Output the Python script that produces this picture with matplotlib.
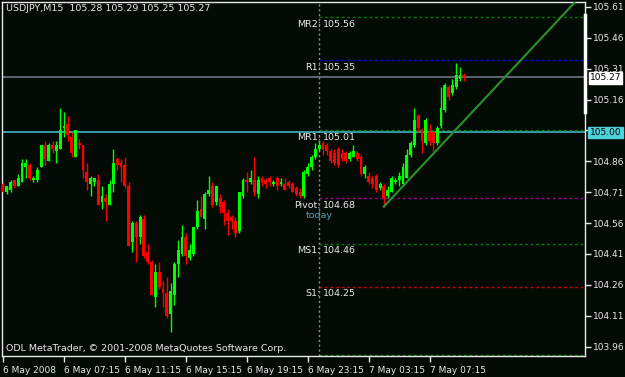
import numpy as np
import matplotlib.pyplot as plt
import matplotlib.transforms as mtransforms

# USDJPY M15 candles, 6 May 03:15 .. 7 May 09:30
opens = [104.75, 104.71, 104.72, 104.77, 104.74, 104.76, 104.83, 104.84, 104.77, 104.77,
         104.83, 104.94, 104.86, 104.94, 104.91, 104.92, 105.02, 105.04, 104.98, 104.88,
         104.95, 104.94, 104.81, 104.75, 104.76, 104.77, 104.66, 104.68, 104.65, 104.75,
         104.87, 104.85, 104.84, 104.74, 104.47, 104.56, 104.49, 104.58, 104.42, 104.37,
         104.20, 104.32, 104.24, 104.22, 104.12, 104.21, 104.36, 104.41, 104.49, 104.39,
         104.41, 104.54, 104.63, 104.58, 104.70, 104.74, 104.66, 104.68, 104.66, 104.61,
         104.59, 104.57, 104.52, 104.69, 104.77, 104.76, 104.77, 104.70, 104.78, 104.77,
         104.78, 104.75, 104.78, 104.75, 104.75, 104.76, 104.75, 104.73, 104.71, 104.69,
         104.80, 104.83, 104.88, 104.92, 104.95, 104.94, 104.91, 104.90, 104.92, 104.90,
         104.90, 104.87, 104.88, 104.90, 104.88, 104.80, 104.79, 104.78, 104.79, 104.73,
         104.74, 104.69, 104.71, 104.76, 104.77, 104.75, 104.78, 104.89, 104.94, 105.08,
         105.01, 104.95, 105.00, 105.00, 104.95, 105.03, 105.11, 105.22, 105.19, 105.22,
         105.26, 105.28]
highs = [104.76, 104.74, 104.77, 104.77, 104.80, 104.87, 104.87, 104.85, 104.79, 104.83,
         104.94, 104.96, 104.95, 104.96, 104.96, 105.12, 105.10, 105.08, 105.00, 105.01,
         104.97, 104.94, 104.85, 104.79, 104.78, 104.80, 104.74, 104.70, 104.77, 104.92,
         104.88, 104.87, 104.88, 104.76, 104.57, 104.57, 104.60, 104.60, 104.46, 104.38,
         104.36, 104.37, 104.28, 104.30, 104.27, 104.37, 104.48, 104.55, 104.51, 104.46,
         104.54, 104.67, 104.69, 104.71, 104.79, 104.76, 104.74, 104.70, 104.67, 104.63,
         104.60, 104.59, 104.71, 104.78, 104.81, 104.82, 104.88, 104.79, 104.79, 104.78,
         104.79, 104.77, 104.79, 104.78, 104.78, 104.77, 104.76, 104.74, 104.73, 104.82,
         104.85, 104.89, 104.95, 104.96, 104.96, 104.95, 104.92, 104.92, 104.93, 104.92,
         104.91, 104.91, 104.94, 104.91, 104.89, 104.84, 104.81, 104.79, 104.80, 104.76,
         104.75, 104.74, 104.79, 104.78, 104.81, 104.85, 104.92, 104.96, 105.12, 105.09,
         105.02, 105.07, 105.04, 105.01, 105.03, 105.22, 105.24, 105.23, 105.26, 105.34,
         105.32, 105.29]
lows = [104.71, 104.70, 104.71, 104.73, 104.74, 104.76, 104.78, 104.77, 104.76, 104.76,
        104.83, 104.84, 104.86, 104.90, 104.85, 104.92, 104.98, 104.96, 104.88, 104.88,
        104.92, 104.78, 104.72, 104.69, 104.74, 104.65, 104.63, 104.57, 104.65, 104.71,
        104.82, 104.76, 104.73, 104.45, 104.42, 104.37, 104.46, 104.39, 104.36, 104.21,
        104.15, 104.24, 104.15, 104.10, 104.03, 104.16, 104.30, 104.40, 104.36, 104.38,
        104.40, 104.53, 104.59, 104.53, 104.69, 104.64, 104.65, 104.61, 104.55, 104.50,
        104.53, 104.49, 104.51, 104.68, 104.71, 104.75, 104.69, 104.68, 104.74, 104.73,
        104.74, 104.74, 104.72, 104.74, 104.72, 104.73, 104.71, 104.69, 104.68, 104.68,
        104.79, 104.82, 104.87, 104.91, 104.89, 104.89, 104.85, 104.84, 104.83, 104.86,
        104.85, 104.86, 104.88, 104.86, 104.79, 104.78, 104.75, 104.73, 104.71, 104.72,
        104.64, 104.68, 104.71, 104.75, 104.74, 104.74, 104.78, 104.88, 104.93, 105.00,
        104.90, 104.94, 104.94, 104.91, 104.94, 105.02, 105.10, 105.16, 105.18, 105.21,
        105.25, 105.25]
closes = [104.71, 104.74, 104.76, 104.74, 104.78, 104.85, 104.85, 104.78, 104.78, 104.82,
          104.94, 104.87, 104.94, 104.92, 104.94, 105.01, 105.03, 104.99, 104.90, 105.01,
          104.94, 104.82, 104.76, 104.78, 104.78, 104.65, 104.69, 104.66, 104.75, 104.85,
          104.84, 104.83, 104.74, 104.45, 104.56, 104.49, 104.59, 104.40, 104.37, 104.21,
          104.32, 104.25, 104.22, 104.11, 104.23, 104.36, 104.43, 104.49, 104.40, 104.43,
          104.54, 104.62, 104.59, 104.70, 104.72, 104.65, 104.74, 104.64, 104.61, 104.57,
          104.57, 104.51, 104.71, 104.77, 104.76, 104.78, 104.71, 104.77, 104.76, 104.75,
          104.76, 104.76, 104.74, 104.76, 104.72, 104.74, 104.71, 104.70, 104.69, 104.81,
          104.83, 104.88, 104.92, 104.94, 104.92, 104.91, 104.86, 104.85, 104.84, 104.87,
          104.86, 104.90, 104.91, 104.87, 104.80, 104.83, 104.76, 104.75, 104.72, 104.75,
          104.68, 104.72, 104.78, 104.77, 104.79, 104.83, 104.89, 104.95, 105.06, 105.02,
          104.96, 105.06, 104.96, 104.95, 105.02, 105.12, 105.23, 105.17, 105.23, 105.28,
          105.28, 105.27]

time_labels = ['6 May 2008', '6 May 07:15', '6 May 11:15', '6 May 15:15',
               '6 May 19:15', '6 May 23:15', '7 May 03:15', '7 May 07:15']
price_ticks = [105.61, 105.46, 105.31, 105.16, 105.01, 104.86,
               104.71, 104.56, 104.41, 104.26, 104.11, 103.96]

level_names = ['MR2', 'R1', 'MR1', 'Pivot', 'MS1', 'S1', 'MS2']
level_values = [105.56, 105.35, 105.01, 104.68, 104.46, 104.25, 103.92]
level_colors = ['#008000', '#0000ff', '#008000', '#a000a0', '#008000', '#d00000', '#008000']

last_price = 105.27
round_level = 105.00
today_bar = 83
trend_x = [100, 150]
trend_y = [104.64, 105.63]

bg = '#040a04'
fg = '#e8e8e8'
font = 'DejaVu Sans'

fig = plt.figure(figsize=(6.25, 3.77), dpi=100, facecolor=bg)
ax = fig.add_axes([2 / 625, 1 - 356 / 377, 583 / 625, 354 / 377])
ax.set_facecolor(bg)

x = np.arange(len(closes))
o = np.array(opens)
c = np.array(closes)
up = c >= o
cols = np.where(up, '#00ff00', '#ff0000')
ax.vlines(x, lows, highs, colors=cols, lw=1, zorder=3)
body = np.maximum(np.abs(c - o), 0.004)
ax.bar(x, body, bottom=np.minimum(o, c), width=0.75, color=cols, lw=0, zorder=4)

# full width lines: last price and 105.00
ax.axhline(last_price, color='#6c7484', lw=1.2, zorder=2)
ax.axhline(round_level, color='#3fb8c0', lw=1.2, zorder=2)

# pivot levels from today's separator to the right edge
for name, val, col in zip(level_names, level_values, level_colors):
    ax.hlines(val, today_bar, 160, colors=col, lw=1, linestyles=(0, (2, 2)), zorder=2)
    if name == 'MS2':
        continue
    ax.text(today_bar + 0.4, val - 0.012, name + ':', ha='right', va='top',
            color=fg, fontsize=6.8, family=font, zorder=5)
    ax.text(today_bar + 0.9, val - 0.012, '%.2f' % val, ha='left', va='top',
            color=fg, fontsize=6.8, family=font, zorder=5)
ax.text(today_bar, 104.68 - 0.062, 'today', ha='center', va='top',
        color='#5a9ab4', fontsize=6.8, family=font, zorder=5)

ax.axvline(today_bar, color='#909090', lw=1, linestyle=(0, (1.5, 2)), zorder=2)

ax.plot(trend_x, trend_y, color='#2a922a', lw=1.5, zorder=5)

ax.set_xlim(-0.26, 152.8)
ax.set_ylim(103.914, 105.634)

ax.set_xticks(np.arange(0, 16 * len(time_labels), 16))
ax.set_xticklabels(time_labels)
for lab in ax.get_xticklabels():
    lab.set_ha('left')
ax.yaxis.tick_right()
ax.set_yticks(price_ticks)
# the 105.01 label sits under the highlighted 105.00 box
ax.set_yticklabels(['' if p == 105.01 else '%.2f' % p for p in price_ticks])
ax.tick_params(colors=fg, labelcolor=fg, labelsize=6.5, length=4, width=1, pad=2)
ax.tick_params(axis='x', pad=3)
for lab in ax.get_xticklabels() + ax.get_yticklabels():
    lab.set_family(font)
for sp in ax.spines.values():
    sp.set_color(fg)
    sp.set_linewidth(1)

# highlighted price boxes on the right scale
trans = mtransforms.blended_transform_factory(ax.transAxes, ax.transData)
ax.text(1.008, last_price - 0.005, '%.2f' % last_price, transform=trans, ha='left', va='center',
        fontsize=6.5, family=font, color='black', clip_on=False, zorder=6,
        bbox=dict(boxstyle='square,pad=0.12', fc='white', ec='white'))
ax.text(1.008, round_level, '%.2f' % round_level, transform=trans, ha='left', va='center',
        fontsize=6.5, family=font, color='black', clip_on=False, zorder=6,
        bbox=dict(boxstyle='square,pad=0.15', fc='#50d0d8', ec='#50d0d8'))
ax.plot([1, 1], [105.10, 105.57], transform=trans, color='white', lw=2.5,
        clip_on=False, zorder=6)

ax.text(0.007, 0.981, 'USDJPY,M15  105.28 105.29 105.25 105.27', transform=ax.transAxes,
        ha='left', va='center', color=fg, fontsize=6.8, family=font)
ax.text(0.007, 0.02, 'ODL MetaTrader, \u00a9 2001-2008 MetaQuotes Software Corp.',
        transform=ax.transAxes, ha='left', va='center', color=fg, fontsize=6.8, family=font)

fig.savefig('out.png', dpi=100, facecolor=bg)
